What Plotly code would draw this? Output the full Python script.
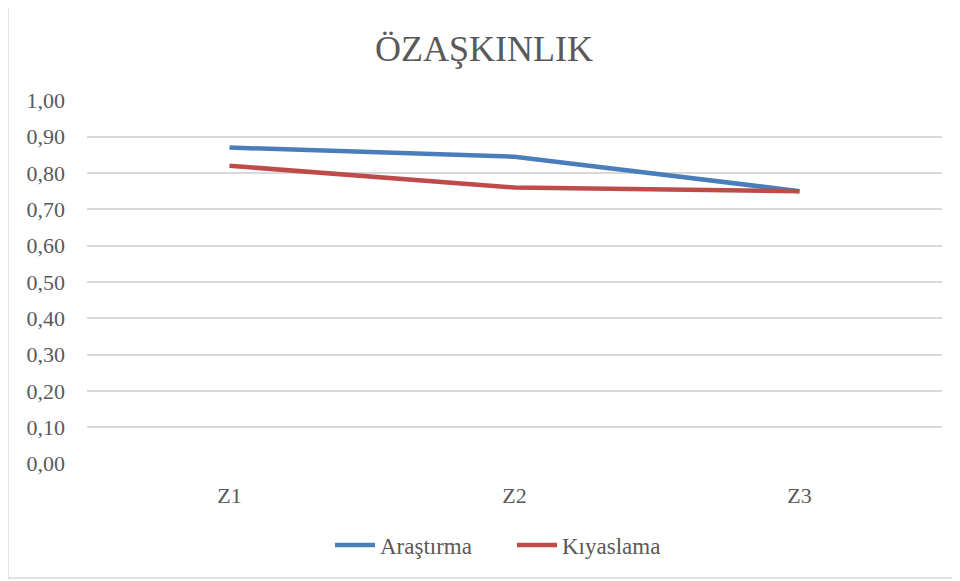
import plotly.graph_objects as go

categories = ["Z1", "Z2", "Z3"]
arastirma = [0.87, 0.845, 0.75]
kiyaslama = [0.82, 0.76, 0.75]
y_ticks = [0.0, 0.1, 0.2, 0.3, 0.4, 0.5, 0.6, 0.7, 0.8, 0.9, 1.0]
y_tick_labels = ["0,00", "0,10", "0,20", "0,30", "0,40", "0,50", "0,60", "0,70", "0,80", "0,90", "1,00"]

FONT = "Liberation Serif"
TXT = "#595959"

fig = go.Figure()
fig.add_trace(go.Scatter(x=categories, y=arastirma, mode="lines", name="Araştırma",
                         line=dict(color="#4A7EBB", width=4.5)))
fig.add_trace(go.Scatter(x=categories, y=kiyaslama, mode="lines", name="Kıyaslama",
                         line=dict(color="#BE4B48", width=4.5)))

OFF = 8  # page body margin
W, H = 960 - OFF, 581 - OFF
ml, mr, mt, mb = 87 - OFF, 18, 100 - OFF, 117
pw, ph = W - ml - mr, H - mt - mb

def px(x):
    return (x - OFF - ml) / pw

def py(y):
    return (H - mb - (y - OFF)) / ph

fig.add_shape(type="rect", xref="paper", yref="paper",
              x0=px(8), x1=px(955), y0=py(5), y1=py(578),
              line=dict(color="#D9D9D9", width=1.5), fillcolor="rgba(0,0,0,0)", layer="below")

fig.update_layout(
    width=W, height=H,
    margin=dict(l=ml, r=mr, t=mt, b=mb),
    paper_bgcolor="white", plot_bgcolor="white",
    title=dict(text="ÖZAŞKINLIK", x=0.5, xanchor="center", y=1 - (48 - OFF) / H, yanchor="middle",
               font=dict(family=FONT, size=36, color=TXT)),
    font=dict(family=FONT, size=22, color=TXT),
    xaxis=dict(range=[-0.5, 2.5], showgrid=False, zeroline=False, showline=False,
               ticks="", ticklabelstandoff=16, tickfont=dict(family=FONT, size=22, color=TXT)),
    yaxis=dict(range=[-0.001, 1.001], tickvals=y_ticks, ticktext=y_tick_labels,
               showgrid=True, gridcolor="#D9D9D9", gridwidth=1.5, zeroline=False,
               showline=False, ticks="", ticklabelstandoff=21,
               tickfont=dict(family=FONT, size=22, color=TXT)),
    legend=dict(orientation="h", x=px(330), xanchor="left", y=py(545), yanchor="middle",
                font=dict(family=FONT, size=23, color=TXT), itemwidth=40,
                entrywidth=127, entrywidthmode="pixels"),
    showlegend=True,
)

fig.write_html("out.html")
